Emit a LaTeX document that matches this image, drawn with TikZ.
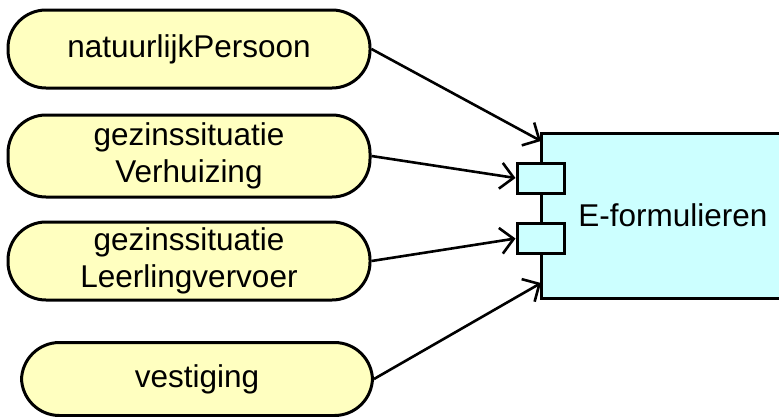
\documentclass[tikz,border=0pt]{standalone}
\usepackage{fontspec}
\setmainfont{Liberation Sans}
\usetikzlibrary{arrows.meta}

\definecolor{usecase}{HTML}{FFFFC0}
\definecolor{comp}{HTML}{CCFFFF}

\tikzset{
  dataobj/.style={draw, line width=3pt, fill=usecase, rounded corners=38pt,
    minimum height=78pt, align=center, inner sep=0pt},
  port/.style={draw, line width=3pt, fill=comp, minimum width=47pt,
    minimum height=30pt, inner sep=0pt},
  flow/.style={line width=2.6pt, -{Straight Barb[length=13pt,width=26pt,line width=2.6pt]}}
}

\begin{document}
\begin{tikzpicture}[x=1pt,y=-1pt, font=\fontsize{31.5}{37}\selectfont]
\useasboundingbox (0,0) rectangle (779,416);

% het component
\node[draw, line width=3pt, fill=comp, minimum width=264pt, minimum height=165pt,
  inner sep=0pt] (form) at (673,215.5) {E-formulieren};
\node[port] (p1) at (540.5,178) {};
\node[port] (p2) at (540.5,238.5) {};
\coordinate (intop) at (541,141);
\coordinate (inbot) at (541,283);

% de gegevens
\node[dataobj, minimum width=362pt] (np) at (189,49) {natuurlijkPersoon};
\node[dataobj, minimum width=362pt, minimum height=82pt] (verh) at (189,156) {gezinssituatie\\Verhuizing};
\node[dataobj, minimum width=362pt] (llv) at (189,261) {gezinssituatie\\Leerlingvervoer};
\node[dataobj, minimum width=351pt, minimum height=73pt] (vest) at (197,379) {vestiging};

\draw[flow] (np.east) -- (intop);
\draw[flow] (verh.east) -- (p1.west);
\draw[flow] (llv.east) -- (p2.west);
\draw[flow] (vest.east) -- (inbot);

\end{tikzpicture}
\end{document}
